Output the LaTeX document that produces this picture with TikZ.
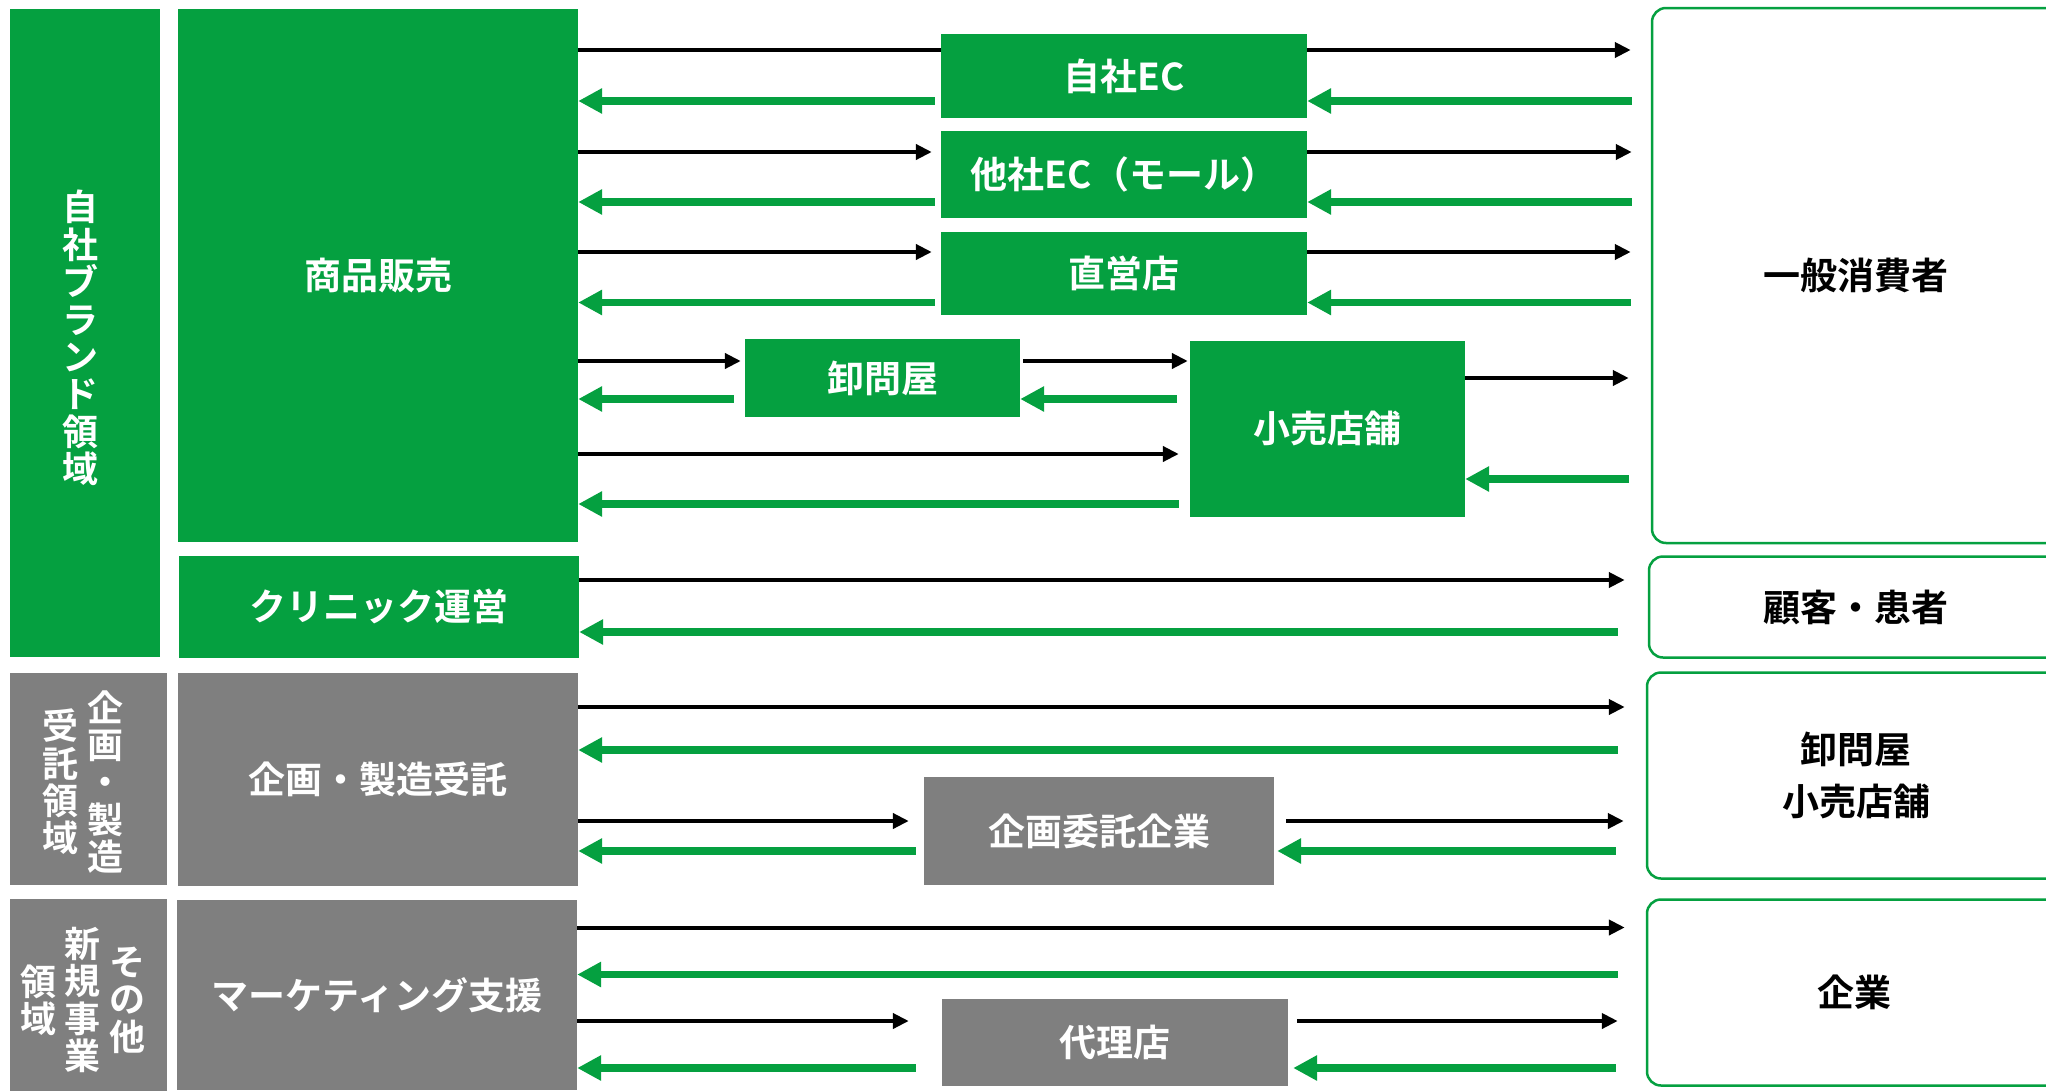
\documentclass[tikz,border=0pt]{standalone}
\usepackage{fontspec}
\setmainfont{Noto Sans CJK JP}[BoldFont={* Bold}]
\usetikzlibrary{arrows.meta}
\definecolor{grn}{RGB}{5,160,64}
\definecolor{gry}{RGB}{127,127,127}
\begin{document}
\begin{tikzpicture}[x=1pt,y=-1pt,
  fbox/.style={rectangle, inner sep=0pt, text=white, align=center, font=\bfseries\fontsize{37}{40}\selectfont},
  gbox/.style={fbox, fill=grn},
  xbox/.style={fbox, fill=gry},
  cbox/.style={rectangle, rounded corners=14pt, draw=grn, line width=2.5pt, fill=white, inner sep=0pt, text=black, align=center, font=\bfseries\fontsize{37}{52}\selectfont},
  vtext/.style={inner sep=0pt, text=white, align=center, font=\bfseries\fontsize{36}{37.4}\selectfont},
  blk/.style={line width=4pt, black},
  blkarr/.style={blk, -{Triangle[length=16pt,width=15pt]}},
  grnarr/.style={line width=7.5pt, grn, -{Triangle[length=24pt,width=24pt]}},
]
\useasboundingbox (0,0) rectangle (2046,1090);
\clip (0,0) rectangle (2046,1090);
\fill[white] (0,0) rectangle (2046,1090);

% left columns
\node[gbox, minimum width=150pt, minimum height=648pt] (brand) at (85,333) {};
\node[vtext] (brandtxt) at (80,338) {自\\社\\ブ\\ラ\\ン\\ド\\領\\域};
\node[xbox, minimum width=157pt, minimum height=212pt] (plancol) at (88.5,779) {};
\node[vtext] (plancolA) at (105,782) {企\\画\\・\\製\\造};
\node[vtext] (plancolB) at (60.5,782) {受\\託\\領\\域};
\node[xbox, minimum width=157pt, minimum height=202pt] (othercol) at (88.5,1000) {};
\node[vtext] (othercolA) at (127,1000) {そ\\の\\他};
\node[vtext] (othercolB) at (82.5,1000) {新\\規\\事\\業};
\node[vtext] (othercolC) at (38,1000) {領\\域};

% business boxes
\node[gbox, minimum width=400pt, minimum height=533pt] (sales) at (378,275.5) {商品販売};
\node[gbox, minimum width=400pt, minimum height=101.5pt] (clinic) at (379,606.75) {クリニック運営};
\node[xbox, minimum width=400pt, minimum height=212.5pt] (oem) at (378,779.25) {企画・製造受託};
\node[xbox, minimum width=400pt, minimum height=190pt] (mkt) at (377,995) {マーケティング支援};

% channels
\node[gbox, minimum width=366pt, minimum height=84pt] (ownec) at (1124,76) {自社EC};
\node[gbox, minimum width=366pt, minimum height=87pt] (otherec) at (1124,174.5) {他社EC（モール）};
\node[gbox, minimum width=366pt, minimum height=83pt] (direct) at (1124,273.5) {直営店};
\node[gbox, minimum width=275pt, minimum height=78pt] (whole) at (882.5,378) {卸問屋};
\node[gbox, minimum width=275pt, minimum height=176pt] (retail) at (1327.5,428.5) {小売店舗};
\node[xbox, minimum width=350pt, minimum height=108pt] (planco) at (1099,831) {企画委託企業};
\node[xbox, minimum width=346pt, minimum height=87pt] (agent) at (1115,1042.5) {代理店};

% customers
\node[cbox, minimum width=408pt, minimum height=535pt] (cons) at (1856,275.5) {一般消費者};
\node[cbox, minimum width=414pt, minimum height=101pt] (patient) at (1856,607) {顧客・患者};
\node[cbox, minimum width=418pt, minimum height=206pt] (dist) at (1856,775.5) {卸問屋\\小売店舗};
\node[cbox, minimum width=414pt, minimum height=186pt] (corp) at (1854,992.5) {企業};

% row 1
\draw[blk] (sales.east |- 0,50) -- (ownec.west |- 0,50);
\draw[blkarr, shorten >=20pt] (ownec.east |- 0,50) -- (cons.west |- 0,50);
\draw[grnarr, shorten <=19pt] (cons.west |- 0,101) -- (ownec.east |- 0,101);
\draw[grnarr, shorten <=6pt] (ownec.west |- 0,101) -- (sales.east |- 0,101);
% row 2
\draw[blkarr, shorten >=9pt] (sales.east |- 0,152) -- (otherec.west |- 0,152);
\draw[blkarr, shorten >=19pt] (otherec.east |- 0,152) -- (cons.west |- 0,152);
\draw[grnarr, shorten <=19pt] (cons.west |- 0,202) -- (otherec.east |- 0,202);
\draw[grnarr, shorten <=6pt] (otherec.west |- 0,202) -- (sales.east |- 0,202);
% row 3
\draw[blkarr, shorten >=9pt] (sales.east |- 0,252) -- (direct.west |- 0,252);
\draw[blkarr, shorten >=20pt] (direct.east |- 0,252) -- (cons.west |- 0,252);
\draw[grnarr, shorten <=20pt] (cons.west |- 0,302.5) -- (direct.east |- 0,302.5);
\draw[grnarr, shorten <=6pt] (direct.west |- 0,302.5) -- (sales.east |- 0,302.5);
% row 4
\draw[blkarr, shorten >=4pt] (sales.east |- 0,361) -- (whole.west |- 0,361);
\draw[blkarr, shorten <=3pt, shorten >=2pt] (whole.east |- 0,361) -- (retail.west |- 0,361);
\draw[grnarr, shorten <=11pt] (whole.west |- 0,399) -- (sales.east |- 0,399);
\draw[grnarr, shorten <=13pt] (retail.west |- 0,399) -- (whole.east |- 0,399);
\draw[blkarr, shorten >=22pt] (retail.east |- 0,378) -- (cons.west |- 0,378);
\draw[grnarr, shorten <=22pt] (cons.west |- 0,479) -- (retail.east |- 0,479);
\draw[blkarr, shorten >=11pt] (sales.east |- 0,454) -- (retail.west |- 0,454);
\draw[grnarr, shorten <=11pt] (retail.west |- 0,504) -- (sales.east |- 0,504);
% clinic
\draw[blkarr, shorten >=23pt] (clinic.east |- 0,580) -- (patient.west |- 0,580);
\draw[grnarr, shorten <=30pt] (patient.west |- 0,632) -- (clinic.east |- 0,632);
% oem
\draw[blkarr, shorten >=21pt] (oem.east |- 0,707) -- (dist.west |- 0,707);
\draw[grnarr, shorten <=28pt] (dist.west |- 0,750) -- (oem.east |- 0,750);
\draw[blkarr, shorten >=15pt] (oem.east |- 0,821) -- (planco.west |- 0,821);
\draw[blkarr, shorten <=12pt, shorten >=22pt] (planco.east |- 0,821) -- (dist.west |- 0,821);
\draw[grnarr, shorten <=30pt, shorten >=3pt] (dist.west |- 0,851) -- (planco.east |- 0,851);
\draw[grnarr, shorten <=8pt] (planco.west |- 0,851) -- (oem.east |- 0,851);
% marketing
\draw[blkarr, shorten >=21pt] (mkt.east |- 0,927.5) -- (corp.west |- 0,927.5);
\draw[grnarr, shorten <=28pt] (corp.west |- 0,974.5) -- (mkt.east |- 0,974.5);
\draw[blkarr, shorten >=33pt] (mkt.east |- 0,1021) -- (agent.west |- 0,1021);
\draw[blkarr, shorten <=9pt, shorten >=28pt] (agent.east |- 0,1021) -- (corp.west |- 0,1021);
\draw[grnarr, shorten <=30pt, shorten >=5pt] (corp.west |- 0,1068) -- (agent.east |- 0,1068);
\draw[grnarr, shorten <=26pt] (agent.west |- 0,1068) -- (mkt.east |- 0,1068);
\end{tikzpicture}
\end{document}
